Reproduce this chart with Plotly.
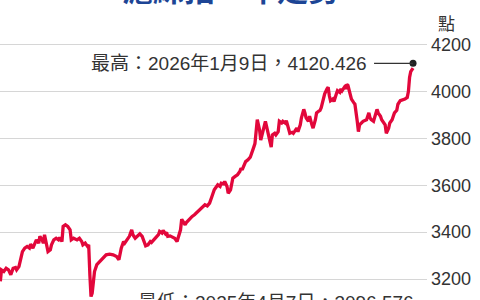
import plotly.graph_objects as go

# 上證綜指（滬綜指）一年走勢 — values
dates = [
    "2025-01-19", "2025-01-20", "2025-01-22", "2025-01-24", "2025-01-26", "2025-01-28", "2025-01-30",
    "2025-02-01", "2025-02-02", "2025-02-04", "2025-02-06", "2025-02-07", "2025-02-09", "2025-02-11",
    "2025-02-13", "2025-02-14", "2025-02-16", "2025-02-18", "2025-02-19", "2025-02-21", "2025-02-22",
    "2025-02-24", "2025-02-25", "2025-02-26", "2025-02-28", "2025-03-01", "2025-03-03", "2025-03-04",
    "2025-03-06", "2025-03-08", "2025-03-10", "2025-03-11", "2025-03-13", "2025-03-14", "2025-03-16",
    "2025-03-18", "2025-03-20", "2025-03-21", "2025-03-23", "2025-03-26", "2025-03-28", "2025-03-30",
    "2025-03-31", "2025-04-02", "2025-04-04", "2025-04-05", "2025-04-06", "2025-04-07", "2025-04-08",
    "2025-04-09", "2025-04-10", "2025-04-12", "2025-04-15", "2025-04-18", "2025-04-20", "2025-04-23",
    "2025-04-26", "2025-04-29", "2025-05-01", "2025-05-03", "2025-05-05", "2025-05-06", "2025-05-08",
    "2025-05-10", "2025-05-12", "2025-05-13", "2025-05-15", "2025-05-17", "2025-05-19", "2025-05-21",
    "2025-05-23", "2025-05-24", "2025-05-26", "2025-05-28", "2025-05-29", "2025-05-31", "2025-06-02",
    "2025-06-04", "2025-06-05", "2025-06-07", "2025-06-08", "2025-06-10", "2025-06-11", "2025-06-12",
    "2025-06-14", "2025-06-16", "2025-06-18", "2025-06-20", "2025-06-21", "2025-06-23", "2025-06-24",
    "2025-06-25", "2025-06-27", "2025-06-28", "2025-06-30", "2025-07-01", "2025-07-03", "2025-07-05",
    "2025-07-07", "2025-07-10", "2025-07-12", "2025-07-14", "2025-07-16", "2025-07-18", "2025-07-20",
    "2025-07-22", "2025-07-24", "2025-07-25", "2025-07-27", "2025-07-28", "2025-07-30", "2025-07-31",
    "2025-08-02", "2025-08-03", "2025-08-05", "2025-08-06", "2025-08-07", "2025-08-09", "2025-08-11",
    "2025-08-13", "2025-08-14", "2025-08-15", "2025-08-17", "2025-08-18", "2025-08-20", "2025-08-22",
    "2025-08-25", "2025-08-26", "2025-08-28", "2025-08-30", "2025-08-31", "2025-09-02", "2025-09-04",
    "2025-09-05", "2025-09-07", "2025-09-09", "2025-09-10", "2025-09-12", "2025-09-13", "2025-09-15",
    "2025-09-16", "2025-09-18", "2025-09-19", "2025-09-21", "2025-09-22", "2025-09-24", "2025-09-25",
    "2025-09-27", "2025-09-28", "2025-09-29", "2025-10-01", "2025-10-02", "2025-10-04", "2025-10-05",
    "2025-10-07", "2025-10-08", "2025-10-09", "2025-10-11", "2025-10-12", "2025-10-14", "2025-10-15",
    "2025-10-17", "2025-10-18", "2025-10-20", "2025-10-21", "2025-10-22", "2025-10-24", "2025-10-25",
    "2025-10-27", "2025-10-28", "2025-10-29", "2025-10-30", "2025-11-01", "2025-11-02", "2025-11-04",
    "2025-11-05", "2025-11-07", "2025-11-08", "2025-11-09", "2025-11-11", "2025-11-12", "2025-11-13",
    "2025-11-14", "2025-11-16", "2025-11-17", "2025-11-19", "2025-11-20", "2025-11-22", "2025-11-23",
    "2025-11-24", "2025-11-26", "2025-11-27", "2025-11-30", "2025-12-02", "2025-12-03", "2025-12-04",
    "2025-12-06", "2025-12-07", "2025-12-09", "2025-12-10", "2025-12-12", "2025-12-13", "2025-12-14",
    "2025-12-16", "2025-12-17", "2025-12-19", "2025-12-20", "2025-12-22", "2025-12-23", "2025-12-24",
    "2025-12-26", "2025-12-27", "2025-12-29", "2025-12-31", "2026-01-02", "2026-01-04", "2026-01-05",
    "2026-01-06", "2026-01-07", "2026-01-09",
]

values = [
    3190, 3239, 3232, 3246, 3239, 3218, 3246,
    3249, 3239, 3253, 3296, 3317, 3332, 3339,
    3332, 3349, 3332, 3360, 3367, 3353, 3382,
    3367, 3353, 3389, 3332, 3317, 3325, 3346,
    3367, 3374, 3367, 3377, 3360, 3424, 3431,
    3424, 3410, 3367, 3374, 3367, 3374, 3360,
    3346, 3353, 3339, 3346, 3218, 3125, 3140,
    3189, 3232, 3261, 3275, 3289, 3303, 3306,
    3303, 3296, 3282, 3332, 3360, 3353, 3367,
    3382, 3410, 3389, 3374, 3384, 3393, 3382,
    3353, 3342, 3346, 3360, 3356, 3367, 3382,
    3389, 3403, 3396, 3407, 3393, 3399, 3382,
    3384, 3379, 3374, 3360, 3374, 3410, 3455,
    3445, 3431, 3441, 3453, 3460, 3467, 3474,
    3484, 3495, 3510, 3517, 3512, 3524, 3552,
    3581, 3595, 3602, 3595, 3609, 3606, 3616,
    3595, 3566, 3581, 3609, 3630, 3638, 3645,
    3659, 3673, 3666, 3687, 3701, 3709, 3720,
    3763, 3778, 3880, 3836, 3793, 3836, 3873,
    3851, 3807, 3763, 3815, 3822, 3815, 3829,
    3873, 3866, 3873, 3866, 3876, 3844, 3822,
    3826, 3822, 3829, 3844, 3829, 3858, 3888,
    3924, 3909, 3888, 3873, 3895, 3858, 3844,
    3880, 3909, 3917, 3920, 3931, 3968, 3990,
    4012, 4019, 3982, 3961, 3968, 3958, 3990,
    4004, 3997, 4012, 4004, 4019, 4012, 4031,
    4026, 3982, 3968, 3953, 3946, 3873, 3829,
    3858, 3866, 3873, 3880, 3909, 3888, 3880,
    3873, 3888, 3924, 3909, 3895, 3880, 3873,
    3858, 3822, 3844, 3866, 3880, 3895, 3909,
    3920, 3946, 3961, 3964, 3968, 3975, 4000,
    4060, 4085, 4100,
]

high_date, high_value = "2026-01-09", 4120.426
low_date, low_value = "2025-04-07", 3096.576
high_label = "最高：2026年1月9日，4120.426"
low_label = "最低：2025年4月7日，3096.576"
title_text = "滬綜指一年走勢"
unit_text = "點"
tick_values = [3200, 3400, 3600, 3800, 4000, 4200]
tick_labels = ["3200", "3400", "3600", "3800", "4000", "4200"]
y_range = [3110.4, 4390.8]

FONT = "Liberation Sans, Noto Sans CJK TC, sans-serif"
CJK = "Noto Sans CJK TC, sans-serif"
RED = "#e2073b"
TXT = "#333333"

fig = go.Figure()
fig.add_trace(go.Scatter(
    x=dates, y=values, mode="lines",
    line=dict(color=RED, width=3.3), hoverinfo="skip", showlegend=False,
))
fig.add_trace(go.Scatter(
    x=[high_date, low_date], y=[high_value, low_value], mode="markers",
    marker=dict(color="#222222", size=7), cliponaxis=False,
    hoverinfo="skip", showlegend=False,
))

fig.add_annotation(
    x=high_date, y=high_value, xref="x", yref="y",
    text=high_label, showarrow=True, arrowhead=0, arrowwidth=1.2, arrowcolor=TXT,
    ax=-44, ay=0, xanchor="right", yanchor="middle", startstandoff=5,
    font=dict(family=FONT, size=19, color=TXT),
)
# the low point lies just below the visible range: anchor its label in paper space
low_paper_y = (low_value - y_range[0]) / (y_range[1] - y_range[0])
fig.add_annotation(
    x=low_date, y=low_paper_y, xref="x", yref="paper",
    text=low_label, showarrow=False,
    xanchor="left", yanchor="middle", xshift=45, yshift=1,
    font=dict(family=FONT, size=19, color=TXT),
)
fig.add_annotation(
    x=230 / 427, y=1 - 12 / 300, xref="paper", yref="paper",
    text="<b>" + title_text + "</b>", showarrow=False,
    xanchor="center", yanchor="bottom",
    font=dict(family=CJK, size=31, color="#1d4595"),
)
fig.add_annotation(
    x=1.0445, y=1 - 22 / 300, xref="paper", yref="paper",
    text=unit_text, showarrow=False, xanchor="center", yanchor="middle",
    font=dict(family=CJK, size=17, color=TXT),
)

fig.update_layout(
    width=480, height=300,
    margin=dict(l=0, r=53, t=0, b=0),
    paper_bgcolor="white", plot_bgcolor="white",
    xaxis=dict(
        type="date", range=["2025-01-18 17:00", "2026-01-21"],
        showgrid=False, showticklabels=False, zeroline=False, showline=False,
    ),
    yaxis=dict(
        range=y_range, side="right",
        tickvals=tick_values, ticktext=tick_labels,
        showgrid=True, gridcolor="#d6d6d6", gridwidth=1,
        zeroline=False, showline=False, ticks="",
        ticklabelstandoff=3,
        tickfont=dict(family=FONT, size=18, color=TXT),
    ),
)

fig.write_html("out.html")
